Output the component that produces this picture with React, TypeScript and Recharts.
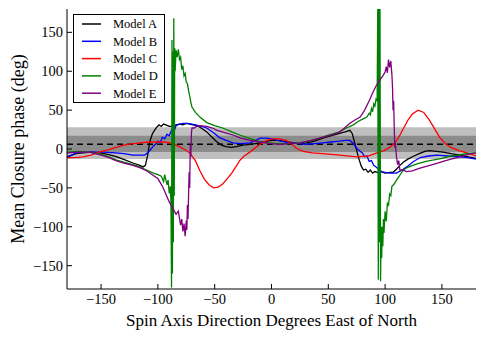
import React from 'react';
import { LineChart, Line, XAxis, YAxis, ReferenceArea, ReferenceLine } from 'recharts';

const xTicks = [-150, -100, -50, 0, 50, 100, 150];
const yTicks = [-150, -100, -50, 0, 50, 100, 150];

// [spin axis angle, mean closure phase]
const modelA: [number, number][] = [
  [-180, -10], [-172, -6], [-166, -5], [-158, -4], [-151, -5], [-144, -7], [-136, -10], [-129, -14],
  [-122, -18], [-116, -21], [-113, -23], [-111, -21], [-109, -8], [-107, 10], [-105, 19], [-103, 24],
  [-101, 28], [-99, 31], [-97, 29], [-95, 32], [-93, 31], [-90, 29], [-87, 29], [-84, 31], [-81, 32],
  [-78, 31], [-75, 33], [-72, 32], [-69, 31], [-66, 30], [-63, 28], [-60, 25], [-57, 22], [-53, 16],
  [-48, 9], [-44, 5], [-40, 3], [-35, 2], [-31, 3], [-25, 5], [-19, 6], [-10, 8], [-4, 10], [1, 11],
  [6, 11], [10, 10], [15, 9], [19, 8], [25, 7], [31, 8], [38, 10], [45, 14], [52, 17], [60, 20],
  [65, 22], [69, 24], [71, 20], [73, 9], [75, -2], [77, -13], [79, -22], [81, -27], [83, -26],
  [85, -30], [87, -27], [89, -31], [91, -29], [93, -30], [96, -29], [100, -31], [104, -30], [107, -30],
  [110, -26], [113, -21], [116, -17], [120, -13], [124, -10], [130, -6], [135, -3], [139, -2],
  [145, -3], [151, -4], [158, -6], [166, -8], [173, -10], [180, -12],
];

const modelB: [number, number][] = [
  [-180, -11], [-176, -8], [-172, -5], [-165, -4], [-157, -4], [-148, -4], [-137, -5], [-130, -6],
  [-122, -8], [-116, -8], [-112, -8], [-109, -5], [-106, 0], [-104, 4], [-102, 6], [-100, 10],
  [-98, 8], [-96, 15], [-94, 13], [-92, 19], [-90, 17], [-88, 24], [-86, 22], [-84, 30], [-81, 32],
  [-78, 33], [-74, 33], [-70, 32], [-64, 30], [-57, 27], [-51, 21], [-46, 15], [-40, 11], [-34, 8],
  [-27, 7], [-19, 8], [-14, 11], [-10, 14], [-5, 14], [1, 13], [8, 10], [16, 8], [24, 7], [31, 6],
  [38, 7], [45, 8], [52, 9], [60, 10], [65, 11], [69, 11], [72, 7], [75, 1], [78, -3], [80, -5],
  [82, -10], [84, -9], [86, -16], [88, -15], [90, -21], [92, -23], [94, -26], [97, -29], [100, -30],
  [104, -31], [110, -31], [115, -27], [119, -23], [125, -16], [131, -11], [138, -9], [146, -8],
  [155, -9], [166, -10], [173, -11], [180, -13],
];

const modelC: [number, number][] = [
  [-180, -11], [-173, -11], [-166, -10], [-159, -8], [-152, -4], [-144, -1], [-137, 2], [-130, 5],
  [-122, 7], [-115, 8], [-108, 9], [-100, 9], [-94, 9], [-87, 7], [-81, 3], [-76, -1], [-72, -5],
  [-67, -15], [-63, -28], [-59, -39], [-55, -46], [-51, -50], [-47, -49], [-43, -45], [-40, -40],
  [-35, -31], [-31, -22], [-28, -15], [-24, -9], [-19, -4], [-14, 2], [-9, 7], [-4, 11], [1, 13],
  [7, 13], [13, 11], [18, 6], [22, 1], [28, -3], [36, -5], [45, -6], [60, -8], [75, -10], [85, -9],
  [93, -5], [99, -2], [104, 2], [108, 7], [112, 15], [116, 26], [120, 37], [124, 45], [129, 50],
  [134, 47], [139, 37], [144, 25], [148, 15], [153, 7], [158, 2], [165, -2], [172, -5], [180, -9],
];

const modelD: [number, number][] = [
  [-180, -4], [-170, -3], [-160, -4], [-150, -7], [-143, -10], [-137, -14], [-130, -17], [-122, -20],
  [-116, -23], [-110, -27], [-104, -31], [-100, -33], [-97, -35], [-95, -42], [-94, -33], [-92, -46],
  [-91, -40], [-90, -57], [-89, -48], [-88.5, -70], [-88, -178], [-87.6, 140], [-87.2, -160],
  [-86.8, 125], [-86.4, -120], [-86, 168], [-85.6, -60], [-85.2, 130], [-84.8, 100], [-84, 127],
  [-83, 118], [-82, 128], [-81, 115], [-80, 118], [-79, 102], [-78, 107], [-77, 94], [-76, 97],
  [-75, 86], [-74, 84], [-73, 75], [-72, 68], [-71, 60], [-70, 54], [-67, 47], [-63, 41], [-57, 34],
  [-50, 30], [-43, 27], [-35, 22], [-28, 18], [-20, 14], [-12, 10], [-4, 8], [7, 7], [16, 7], [25, 8],
  [33, 10], [42, 14], [50, 18], [60, 22], [66, 27], [72, 31], [77, 36], [81, 39], [84, 41], [86, 46],
  [87, 44], [88, 52], [89, 48], [90, 58], [91, 55], [92, 64], [93, 62], [93.5, 180], [94, -168],
  [94.5, 180], [95, -120], [95.5, 180], [96, -170], [96.5, -100], [97, -140], [97.5, -100], [98, -125],
  [98.5, -90], [99, -108], [100, -80], [101, -93], [102, -70], [103, -72], [104, -58], [105, -60],
  [106, -48], [108, -45], [110, -40], [112, -36], [115, -29], [118, -25], [121, -23], [128, -19],
  [136, -16], [143, -14], [150, -12], [158, -9], [165, -8], [172, -6], [180, -5],
];

const modelE: [number, number][] = [
  [-180, -5], [-170, -4], [-160, -4], [-150, -8], [-143, -11], [-137, -15], [-130, -18], [-122, -21],
  [-116, -24], [-110, -28], [-104, -34], [-100, -38], [-96, -48], [-93, -58], [-90, -68], [-87, -76],
  [-84, -84], [-82, -80], [-80, -98], [-79, -90], [-78, -106], [-77, -96], [-76, -112], [-75, -92],
  [-74.5, -104], [-74, -72], [-73.5, -90], [-73, -60], [-72.5, -30], [-72, -50], [-71.5, 5],
  [-71, -10], [-70.5, 20], [-70, 27], [-68, 27], [-66, 29], [-63, 30], [-57, 29], [-52, 27],
  [-48, 24], [-41, 21], [-34, 18], [-27, 14], [-19, 11], [-10, 9], [-1, 7], [7, 6], [16, 7], [25, 8],
  [35, 11], [45, 15], [53, 18], [60, 22], [65, 28], [69, 33], [73, 37], [78, 41], [82, 50], [86, 62],
  [89, 72], [92, 81], [95, 88], [98, 94], [100, 99], [101, 106], [102, 98], [103, 115], [104, 105],
  [105, 113], [106, 95], [106.5, 80], [107, 50], [107.5, 62], [108, 30], [108.5, 2], [109, 8],
  [110, -10], [111, -20], [112, -15], [113, -27], [115, -27], [119, -29], [124, -28], [130, -25],
  [137, -22], [144, -19], [151, -16], [158, -13], [166, -10], [173, -7], [180, -5],
];

const outerBand = [-13, 28];
const innerBand = [-4, 17];
const meanPhase = 6;

const series = [
  { name: 'Model A', color: '#000000', points: modelA },
  { name: 'Model B', color: '#0000ff', points: modelB },
  { name: 'Model C', color: '#ff0000', points: modelC },
  { name: 'Model D', color: '#008000', points: modelD },
  { name: 'Model E', color: '#800080', points: modelE },
];

const FONT = '"Liberation Serif", "DejaVu Serif", serif';
const fmt = (v: number) => (v < 0 ? `\u2212${Math.abs(v)}` : `${v}`);

const BottomTick = ({ x, y, payload }: any) => (
  <g>
    <line x1={x} x2={x} y1={y} y2={y - 5} stroke="#000" />
    <text x={x} y={y + 15} textAnchor="middle" fontFamily={FONT} fontSize={14.5} fill="#000">
      {fmt(payload.value)}
    </text>
  </g>
);

const LeftTick = ({ x, y, payload }: any) => (
  <g>
    <line x1={x} x2={x + 5} y1={y} y2={y} stroke="#000" />
    <text x={x - 4} y={y} dy="0.35em" textAnchor="end" fontFamily={FONT} fontSize={14.5} fill="#000">
      {fmt(payload.value)}
    </text>
  </g>
);

const TopTick = ({ x, y }: any) => <line x1={x} x2={x} y1={y} y2={y + 5} stroke="#000" />;
const RightTick = ({ x, y }: any) => <line x1={x} x2={x - 5} y1={y} y2={y} stroke="#000" />;

const Legendbox = () => (
  <div
    style={{
      position: 'absolute', left: 73, top: 14, width: 92, height: 89,
      border: '1px solid #000', background: '#fff', boxSizing: 'border-box',
    }}
  >
    <svg width={90} height={87}>
      {series.map((s, i) => (
        <g key={s.name}>
          <line x1={8} x2={27} y1={9 + i * 17.3} y2={9 + i * 17.3} stroke={s.color} strokeWidth={1.5} />
          <text x={39} y={9 + i * 17.3} dy="0.35em" fontFamily={FONT} fontSize={12.5} fill="#000">
            {s.name}
          </text>
        </g>
      ))}
    </svg>
  </div>
);

export default function App() {
  return (
    <div style={{ position: 'relative', width: 485, height: 338 }}>
      <style>{'body{margin:0}'}</style>
      <LineChart width={485} height={338} margin={{ top: 9, right: 9, bottom: 0, left: 0 }}>
        <XAxis
          dataKey="x" type="number" domain={[-180, 180]} ticks={xTicks} allowDataOverflow
          interval={0} height={49} tickSize={0} tickMargin={0} tickLine={false}
          axisLine={{ stroke: '#000' }} tick={<BottomTick />}
          label={{
            content: ({ viewBox }: any) => (
              <text x={viewBox.x + viewBox.width / 2} y={viewBox.y + 37} textAnchor="middle"
                fontFamily={FONT} fontSize={17} fill="#000">
                Spin Axis Direction Degrees East of North
              </text>
            ),
          }}
        />
        <XAxis
          xAxisId="top" orientation="top" dataKey="x" type="number" domain={[-180, 180]} ticks={xTicks}
          interval={0} height={0} tickSize={0} tickMargin={0} tickLine={false}
          axisLine={{ stroke: '#000' }} tick={<TopTick />}
        />
        <YAxis
          type="number" domain={[-180, 180]} ticks={yTicks} allowDataOverflow interval={0}
          width={67} tickSize={0} tickMargin={0} tickLine={false}
          axisLine={{ stroke: '#000' }} tick={<LeftTick />}
          label={{
            content: ({ viewBox }: any) => {
              const cy = viewBox.y + viewBox.height / 2;
              return (
                <text x={18} y={cy} transform={`rotate(-90, 18, ${cy})`} textAnchor="middle"
                  dominantBaseline="central" fontFamily={FONT} fontSize={18} fill="#000">
                  Mean Closure phase (deg)
                </text>
              );
            },
          }}
        />
        <YAxis
          yAxisId="right" orientation="right" type="number" domain={[-180, 180]} ticks={yTicks}
          interval={0} width={0} tickSize={0} tickMargin={0} tickLine={false}
          axisLine={{ stroke: '#000' }} tick={<RightTick />}
        />
        <ReferenceArea y1={outerBand[0]} y2={outerBand[1]} fill="#bfbfbf" fillOpacity={1} stroke="none" />
        <ReferenceArea y1={innerBand[0]} y2={innerBand[1]} fill="#8c8c8c" fillOpacity={1} stroke="none" />
        <ReferenceLine y={meanPhase} stroke="#000" strokeWidth={1.5} strokeDasharray="6 4" />
        {series.map((s) => (
          <Line
            key={s.name}
            name={s.name}
            data={s.points.map(([x, y]) => ({ x, y }))}
            dataKey="y"
            type="linear"
            stroke={s.color}
            strokeWidth={1.3}
            dot={false}
            isAnimationActive={false}
          />
        ))}
      </LineChart>
      <Legendbox />
    </div>
  );
}
